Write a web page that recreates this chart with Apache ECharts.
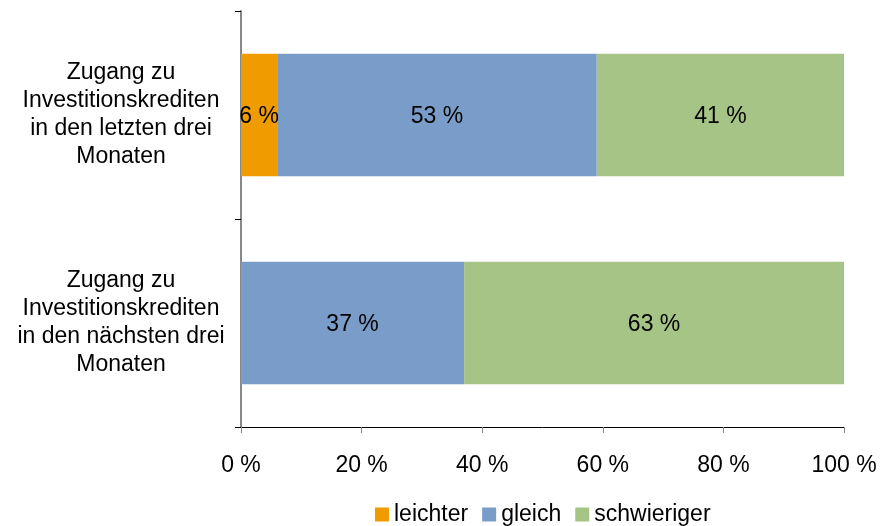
<!DOCTYPE html>
<html>
<head>
<meta charset="utf-8">
<script src="https://cdn.jsdelivr.net/npm/echarts@6/dist/echarts.min.js"></script>
<style>html,body{margin:0;padding:0;background:#fff}#c{width:887px;height:526px}</style>
</head>
<body>
<div id="c"></div>
<script>
const categories = [
  'Zugang zu\nInvestitionskrediten\nin den letzten drei\nMonaten',
  'Zugang zu\nInvestitionskrediten\nin den nächsten drei\nMonaten'
];
const seriesNames = ['leichter', 'gleich', 'schwieriger'];
const leichter = [6, 0];
const gleich = [53, 37];
const schwieriger = [41, 63];
const xTicks = [0, 20, 40, 60, 80, 100];
const colors = ['#F09B00', '#7A9CC8', '#A6C486'];

const font = 'Liberation Sans, Arial, sans-serif';
const chart = echarts.init(document.getElementById('c'), null, {renderer: 'canvas'});
const values = [leichter, gleich, schwieriger];
chart.setOption({
  animation: false,
  textStyle: {fontFamily: font},
  grid: {left: 241, right: 43, top: 11, bottom: 99, containLabel: false},
  legend: {
    data: seriesNames,
    top: 498,
    left: 370,
    icon: 'rect',
    itemWidth: 14,
    itemHeight: 14,
    itemGap: 14,
    textStyle: {fontSize: 23, color: '#000', fontFamily: font}
  },
  xAxis: {
    type: 'value',
    min: xTicks[0],
    max: xTicks[xTicks.length - 1],
    interval: 20,
    position: 'bottom',
    axisLine: {show: true, lineStyle: {color: '#000', width: 1}},
    axisTick: {show: true, length: 6, lineStyle: {color: '#888'}},
    splitLine: {show: false},
    axisLabel: {formatter: v => v + ' %', fontSize: 23, color: '#000', margin: 27, fontFamily: font}
  },
  yAxis: {
    type: 'category',
    data: categories,
    inverse: true,
    axisLine: {show: true, lineStyle: {color: '#888', width: 2}},
    axisTick: {show: true, length: 6, lineStyle: {color: '#000'}},
    axisLabel: {fontSize: 23, color: '#000', align: 'center', margin: 120, lineHeight: 28, padding: [6, 0, 0, 0], fontFamily: font}
  },
  series: seriesNames.map((n, i) => ({
    name: n,
    type: 'bar',
    stack: 'total',
    barWidth: '59%',
    itemStyle: {color: colors[i]},
    label: {
      show: true,
      position: 'inside',
      fontSize: 23,
      color: '#000',
      fontFamily: font,
      offset: [0, 2],
      formatter: p => p.value > 0 ? p.value + ' %' : ''
    },
    data: values[i]
  }))
});
</script>
</body>
</html>
